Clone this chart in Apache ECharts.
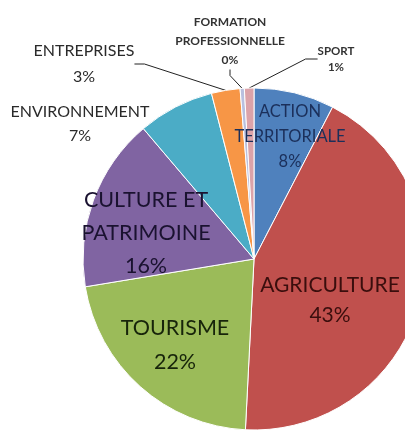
<!DOCTYPE html>
<html>
<head>
<meta charset="utf-8">
<script src="https://cdn.jsdelivr.net/npm/echarts@6/dist/echarts.min.js"></script>
<style>
html,body{margin:0;padding:0;background:#fff;}
#chart{width:405px;height:435px;}
</style>
</head>
<body>
<div id="chart"></div>
<script>
// Data
const categories = ['ACTION\nTERRITORIALE', 'AGRICULTURE', 'TOURISME', 'CULTURE ET\nPATRIMOINE', 'ENVIRONNEMENT', 'ENTREPRISES', 'FORMATION\nPROFESSIONNELLE', 'SPORT'];
const values = [7.6, 43.2, 21.6, 16.4, 7.2, 2.7, 0.4, 0.9];

// Styles (not data)
const sliceColors = ['#4F81BD', '#C0504D', '#9BBB59', '#8064A2', '#4BACC6', '#F79646', '#B9C0DF', '#DCA3A9'];
const labelStyles = [
  {pos: [290, 137], size: 16.5, lh: 25, color: '#1b2f5a', weight: 'normal', line: false},
  {pos: [330, 300], size: 21, lh: 30, color: '#3a0e0d', weight: 'normal', line: false},
  {pos: [175, 345], size: 21.5, lh: 34, color: '#17240a', weight: 'normal', line: false},
  {pos: [146, 233], size: 21.5, lh: 33, color: '#1a1230', weight: 'normal', line: false},
  {pos: [80, 124], size: 16, lh: 24, color: '#2a2a2a', weight: 'normal', line: false},
  {pos: [84, 64], size: 16, lh: 26, color: '#2a2a2a', weight: 'normal', line: true, len2: 10},
  {pos: [230, 41], size: 12, lh: 19, color: '#333', weight: 'bold', line: true, len2: 6},
  {pos: [336, 59], size: 11.5, lh: 16, color: '#333', weight: 'bold', line: true, len2: 12}
];

const seriesData = categories.map((name, i) => {
  const s = labelStyles[i];
  return {
    name: name,
    value: values[i],
    itemStyle: {color: sliceColors[i]},
    label: {
      fontSize: s.size,
      lineHeight: s.lh,
      color: s.color,
      fontFamily: 'Lato',
      fontWeight: s.weight
    },
    labelLine: {
      show: s.line,
      length2: s.len2 || 0,
      lineStyle: {color: '#222', width: 1}
    }
  };
});

const chart = echarts.init(document.getElementById('chart'), null, {renderer: 'canvas'});
chart.setOption({
  animation: false,
  backgroundColor: '#fff',
  series: [{
    type: 'pie',
    center: [254, 259],
    radius: 171,
    startAngle: 90,
    clockwise: true,
    avoidLabelOverlap: false,
    percentPrecision: 0,
    itemStyle: {borderColor: '#fff', borderWidth: 1},
    label: {
      show: true,
      position: 'outside',
      formatter: '{b}\n{d}%',
      align: 'center'
    },
    labelLine: {show: true, length: 10, length2: 10, minTurnAngle: 0, maxSurfaceAngle: 180},
    labelLayout: function (params) {
      const s = labelStyles[params.dataIndex];
      return {x: s.pos[0], y: s.pos[1], align: 'center', verticalAlign: 'middle'};
    },
    data: seriesData
  }]
});
</script>
</body>
</html>
